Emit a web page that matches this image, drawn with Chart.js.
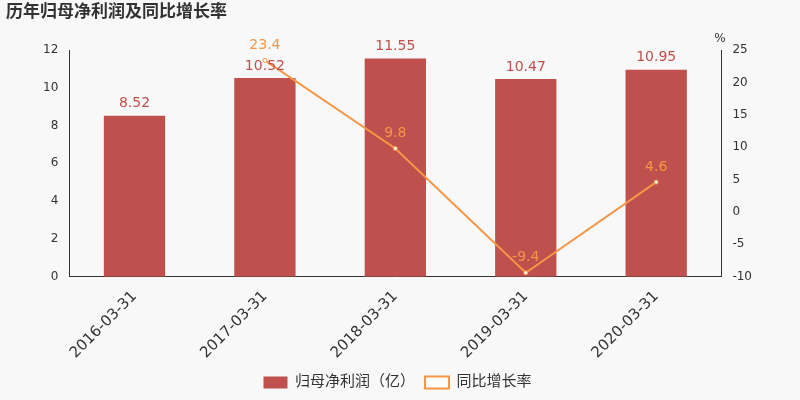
<!DOCTYPE html>
<html><head><meta charset="utf-8">
<script src="https://cdn.jsdelivr.net/npm/chart.js@4"></script>
<style>html,body{margin:0;background:#f8f8f8;}#w{width:800px;height:400px;position:relative;}</style>
</head><body><div id="w"><canvas id="c" width="800" height="400"></canvas></div>
<script>
const categories=['2016-03-31','2017-03-31','2018-03-31','2019-03-31','2020-03-31'];
const profit=[8.52,10.52,11.55,10.47,10.95];
const growth=[null,23.4,9.8,-9.4,4.6];
const barColor='#c0504d', lineColor='#f79646';
const F='"DejaVu Sans","Noto Sans CJK SC",sans-serif';
const labels={id:'lbl',afterDatasetsDraw(ch){const c=ch.ctx;c.save();c.font='14px '+F;c.textAlign='center';c.textBaseline='bottom';
ch.data.datasets.forEach((ds,i)=>{const m=ch.getDatasetMeta(i);c.fillStyle=i==0?barColor:lineColor;m.data.forEach((e,j)=>{const v=ds.data[j];if(v==null)return;c.fillText(String(v),e.x,e.y-(i==0?5:8));});});
c.font='bold 17px "Noto Sans CJK SC",sans-serif';c.fillStyle='#333';c.textAlign='left';c.textBaseline='top';c.fillText('历年归母净利润及同比增长率',6,2);
c.font='12px '+F;c.textAlign='center';c.fillText('%',720,33);c.restore();}};
new Chart(document.getElementById('c'),{data:{labels:categories,datasets:[
{type:'bar',label:'归母净利润（亿）',data:profit,backgroundColor:barColor,yAxisID:'y',barPercentage:0.47,categoryPercentage:1,order:2},
{type:'line',label:'同比增长率',data:growth,borderColor:lineColor,backgroundColor:'#fff',borderWidth:2,pointRadius:2,pointBorderWidth:1,yAxisID:'y1',order:1}]},
options:{responsive:false,animation:false,layout:{padding:{top:50,left:40,right:45,bottom:0}},
plugins:{legend:{position:'bottom',labels:{sort:(a,b)=>a.datasetIndex-b.datasetIndex,font:{size:15,family:F},color:'#333',boxWidth:24,boxHeight:12}},tooltip:{enabled:false}},
scales:{x:{grid:{display:false},border:{color:'#333'},ticks:{color:'#333',font:{size:15,family:F},maxRotation:45,minRotation:45}},
y:{min:0,max:12,ticks:{stepSize:2,color:'#333',font:{size:12,family:F}},grid:{display:false},border:{color:'#333'}},
y1:{position:'right',min:-10,max:25,ticks:{stepSize:5,color:'#333',font:{size:12,family:F}},grid:{display:false},border:{color:'#333'}}}},
plugins:[labels]});
</script></body></html>
